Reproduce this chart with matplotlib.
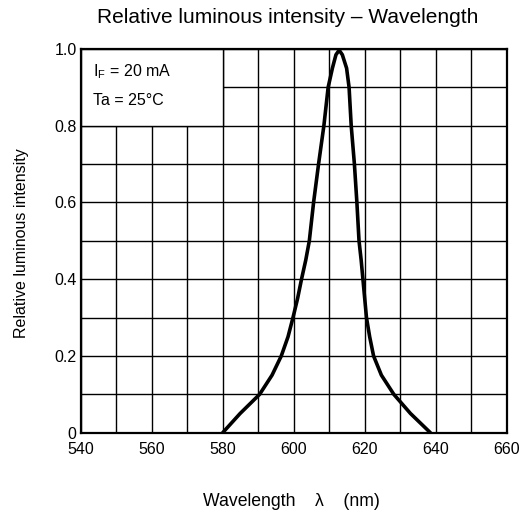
import matplotlib
matplotlib.use("Agg")
import matplotlib.pyplot as plt
from matplotlib.patches import Rectangle

plt.rcParams['font.family'] = ['Liberation Sans', 'DejaVu Sans']
plt.rcParams['mathtext.fontset'] = 'custom'
plt.rcParams['mathtext.rm'] = 'Liberation Sans'

# curve
wavelength = [580, 584.9, 590.4, 593.9, 596.5, 598.4, 599.8, 601.1, 602.2,
              603.4, 604.4, 605.6, 607.0, 608.5, 609.7, 610.9, 611.9, 612.8,
              613.7, 614.9, 615.6, 616.2, 617.1, 617.8, 618.4, 619.0, 619.5,
              620.0, 620.5, 621.4, 622.5, 624.7, 628.2, 632.9, 638.5]
intensity = [0, 0.05, 0.10, 0.15, 0.20, 0.25, 0.30, 0.35, 0.40,
             0.45, 0.50, 0.60, 0.70, 0.80, 0.90, 0.95, 0.985, 0.997,
             0.985, 0.95, 0.90, 0.80, 0.70, 0.60, 0.50, 0.45, 0.40,
             0.35, 0.30, 0.25, 0.20, 0.15, 0.10, 0.05, 0]
xticks = [540, 560, 580, 600, 620, 640, 660]
yticks = [0, 0.2, 0.4, 0.6, 0.8, 1.0]
ytick_labels = ['0', '0.2', '0.4', '0.6', '0.8', '1.0']

fig = plt.figure(figsize=(5.29, 5.15), dpi=100)
ax = fig.add_axes([80.7/529, 1-432.7/515, 426/529, 383.7/515])

ax.set_xlim(540, 660)
ax.set_ylim(0, 1.0)
ax.set_xticks(xticks)
ax.set_xticks(range(540, 661, 10), minor=True)
ax.set_yticks(yticks)
ax.set_yticks([i/10 for i in range(11)], minor=True)
ax.set_yticklabels(ytick_labels)
ax.tick_params(which='both', length=0, labelsize=11.5)
ax.tick_params(axis='x', pad=7)
ax.tick_params(axis='y', pad=3)
ax.grid(which='both', color='black', linewidth=1.0)
ax.set_axisbelow(True)
for s in ax.spines.values():
    s.set_linewidth(1.6)

# blank box for the conditions
ax.add_patch(Rectangle((540, 0.8), 40, 0.2, facecolor='white', edgecolor='black',
                       linewidth=1.0, zorder=1.5))
ax.text(543.6, 0.94, r'I$_\mathrm{F}$ = 20 mA', fontsize=11.5, va='center', zorder=3)
ax.text(543.6, 0.867, 'Ta = 25°C', fontsize=11.5, va='center', zorder=3)

ax.plot(wavelength, intensity, color='black', linewidth=2.6, zorder=4,
        solid_joinstyle='round', solid_capstyle='round')

fig.text(287.5/529, 1-23.3/515, 'Relative luminous intensity \u2013 Wavelength',
         fontsize=15, ha='center', va='baseline')
fig.text(22/529, 1-243/515, 'Relative luminous intensity', fontsize=11.5,
         rotation=90, ha='center', va='center')
fig.text(291/529, 1-502/515, 'Wavelength    \u03bb    (nm)', fontsize=12.7,
         ha='center', va='center')

fig.savefig('out.png', dpi=100)
